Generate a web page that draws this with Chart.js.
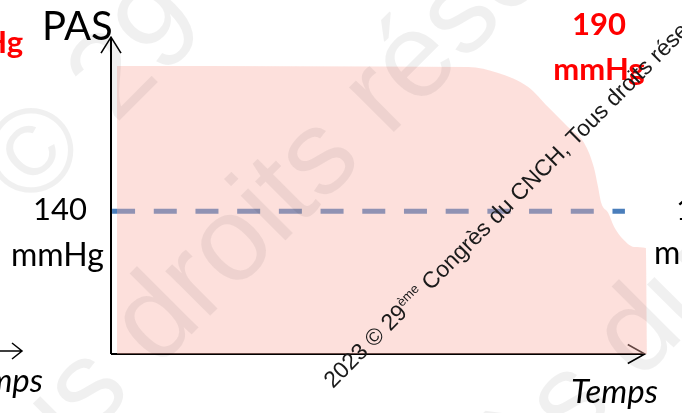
<!DOCTYPE html>
<html lang="fr">
<head>
<meta charset="utf-8">
<title>PAS</title>
<script src="https://cdn.jsdelivr.net/npm/chart.js@4.4.1/dist/chart.umd.min.js"></script>
<style>
  html, body { margin: 0; padding: 0; background: #fff; }
  #wrap { position: relative; width: 682px; height: 413px; overflow: hidden; }
</style>
</head>
<body>
<div id="wrap"><canvas id="pas-chart" width="682" height="413"></canvas></div>
<script>
'use strict';

// ── Data ──────────────────────────────────────────────────────
// zone de PAS (temps en unités arbitraires, PAS en mmHg)
const pasX = [1.1, 66.5, 72.1, 77.7, 81.4, 85.1, 88.1, 89.9, 90.7, 91.3, 92.6, 93.7, 95.5, 97.4, 99.6, 99.8];
const pasY = [190.9, 190.5, 188.4, 183.5, 176.5, 169.5, 163.9, 155.5, 148.5, 142.9, 139.4, 134.5, 129.9, 127.5, 127.1, 90];

// seuil 140 mmHg
const seuilX = [0.2, 95.7];
const seuilY = [140, 140];

const yMin = 90, yMax = 200;
const xMin = 0,  xMax = 100;

const toPoints = (xs, ys) => xs.map((x, i) => ({ x, y: ys[i] }));

const CALIBRI = 'Lato, "Open Sans", sans-serif';
const ARIAL   = '"Liberation Sans", Arial, sans-serif';
const DEG45   = -Math.PI / 4;

// ── Axes with arrows (under the pink zone) ────────────────────
const arrowAxes = {
  id: 'arrowAxes',
  beforeDatasetsDraw(chart) {
    const { ctx, scales: { x, y } } = chart;
    const x0   = x.getPixelForValue(xMin);
    const y0   = y.getPixelForValue(yMin);
    const yTop = y.getPixelForValue(201);
    const xEnd = x.getPixelForValue(99.4);
    ctx.save();
    ctx.strokeStyle = '#000';
    ctx.lineWidth = 2;
    ctx.beginPath();
    ctx.moveTo(x0, y0); ctx.lineTo(x0, yTop);
    ctx.moveTo(x0, y0); ctx.lineTo(xEnd, y0);
    ctx.stroke();
    ctx.lineWidth = 1.6;
    ctx.beginPath();
    ctx.moveTo(x0 - 10, yTop + 16); ctx.lineTo(x0, yTop); ctx.lineTo(x0 + 10, yTop + 16);
    ctx.moveTo(xEnd - 17, y0 - 9.5); ctx.lineTo(xEnd, y0); ctx.lineTo(xEnd - 17, y0 + 9.5);
    ctx.stroke();
    ctx.restore();
  }
};

// ── Texts of the slide ────────────────────────────────────────
function text(ctx, str, x, y, font, color, align) {
  ctx.font = font;
  ctx.fillStyle = color;
  ctx.textAlign = align || 'left';
  ctx.textBaseline = 'alphabetic';
  ctx.fillText(str, x, y);
}

function drawAlong(ctx, str, prefix, ax, ay) {
  // (ax, ay) = point on the baseline where the text after `prefix` starts
  const w = ctx.measureText(prefix).width;
  ctx.save();
  ctx.translate(ax, ay);
  ctx.rotate(DEG45);
  ctx.textAlign = 'left';
  ctx.fillText(str, -w, 0);
  ctx.restore();
}

const slideTexts = {
  id: 'slideTexts',
  afterDraw(chart) {
    const { ctx } = chart;
    ctx.save();
    text(ctx, 'PAS', 42, 40, `40px ${CALIBRI}`, '#000');
    text(ctx, '140', 33, 220, `31px ${CALIBRI}`, '#000');
    text(ctx, 'mmHg', 11, 266, `32px ${CALIBRI}`, '#000');
    text(ctx, 'Temps', 571, 403, `italic 33px ${CALIBRI}`, '#000');
    text(ctx, '190', 599, 35, `bold 31px ${CALIBRI}`, '#ff0000', 'center');
    text(ctx, 'mmHg', 599, 80, `bold 31px ${CALIBRI}`, '#ff0000', 'center');

    // bords des diapositives voisines
    text(ctx, 'mmHg', 23, 53, `bold 31px ${CALIBRI}`, '#ff0000', 'right');
    text(ctx, 'Temps', 43, 392, `italic 33px ${CALIBRI}`, '#000', 'right');
    text(ctx, '140', 676, 220, `31px ${CALIBRI}`, '#000');
    text(ctx, 'mmHg', 654, 264, `32px ${CALIBRI}`, '#000');
    ctx.strokeStyle = '#000';
    ctx.lineWidth = 1.5;
    ctx.beginPath();
    ctx.moveTo(0, 351); ctx.lineTo(22, 351);
    ctx.moveTo(12, 343); ctx.lineTo(22, 351); ctx.lineTo(12, 359);
    ctx.stroke();

    // filigrane en grand
    ctx.font = `120px ${ARIAL}`;
    ctx.fillStyle = 'rgba(0,0,0,0.06)';
    drawAlong(ctx, '2023 © 29', '2023 ', 29, 211);
    drawAlong(ctx, 'Tous droits réservés', 'Tous ', 157, 369);
    drawAlong(ctx, 'Congrès du CNCH', 'Congrès ', 639, 382);

    // filigrane copyright
    ctx.translate(333, 389);
    ctx.rotate(DEG45);
    ctx.fillStyle = '#1a1a1a';
    ctx.textAlign = 'left';
    ctx.font = `23px ${ARIAL}`;
    ctx.fillText('2023 © 29', 0, 0);
    let w = ctx.measureText('2023 © 29').width;
    ctx.font = `13px ${ARIAL}`;
    ctx.fillText('ème', w, -9);
    w += ctx.measureText('ème').width;
    ctx.font = `23px ${ARIAL}`;
    ctx.fillText(' Congrès du CNCH, Tous droits réservés', w, 0);
    ctx.restore();
  }
};

// ── Chart ─────────────────────────────────────────────────────
new Chart(document.getElementById('pas-chart'), {
  type: 'scatter',
  data: {
    datasets: [
      {
        label: 'PAS',
        data: toPoints(pasX, pasY),
        showLine: true,
        fill: 'start',
        backgroundColor: 'rgba(250,177,167,0.4)',
        borderWidth: 0,
        borderColor: 'rgba(0,0,0,0)',
        pointRadius: 0,
        cubicInterpolationMode: 'monotone',
        order: 0
      },
      {
        label: '140 mmHg',
        data: toPoints(seuilX, seuilY),
        showLine: true,
        fill: false,
        borderColor: '#4a7ebb',
        borderWidth: 5,
        borderDash: [23, 18.7],
        borderCapStyle: 'butt',
        pointRadius: 0,
        order: 1
      }
    ]
  },
  options: {
    responsive: false,
    animation: false,
    devicePixelRatio: 1,
    layout: { padding: { left: 111, right: 34, top: 40, bottom: 59 } },
    plugins: {
      legend: { display: false },
      tooltip: { enabled: false }
    },
    scales: {
      x: { type: 'linear', min: xMin, max: xMax, display: false },
      y: { type: 'linear', min: yMin, max: yMax, display: false }
    }
  },
  plugins: [arrowAxes, slideTexts]
});
</script>
</body>
</html>
